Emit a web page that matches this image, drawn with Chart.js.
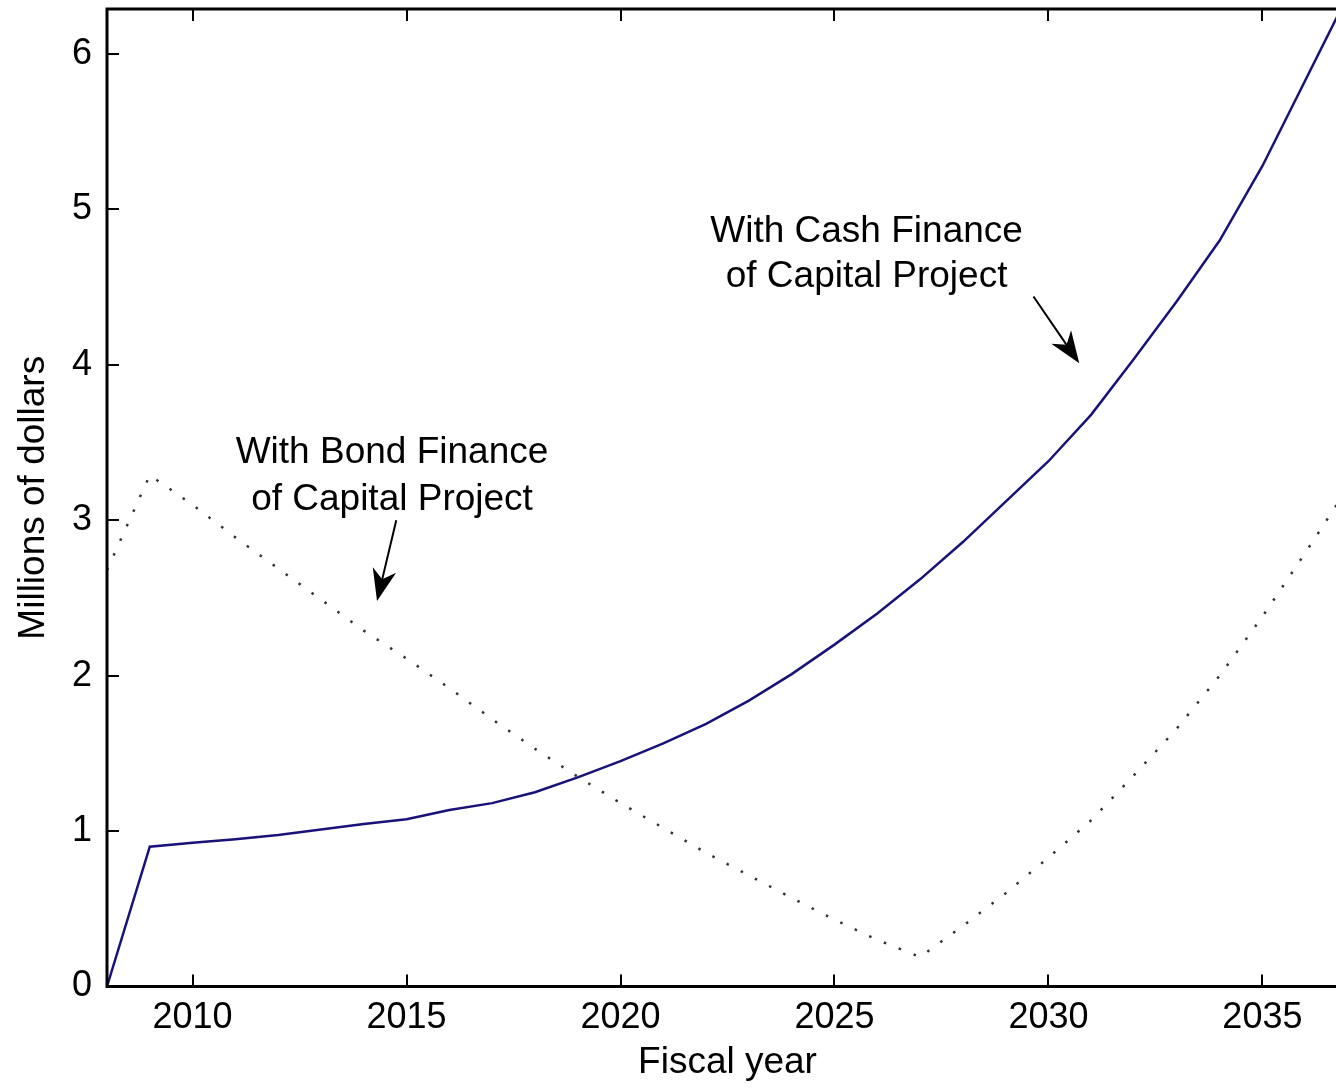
<!DOCTYPE html>
<html>
<head>
<meta charset="utf-8">
<title>Fiscal year balance</title>
<script src="https://cdn.jsdelivr.net/npm/chart.js@4.4.1/dist/chart.umd.min.js"></script>
<style>
  html, body { margin: 0; padding: 0; background: #fff; overflow: hidden; }
  #wrap { position: relative; width: 1352px; height: 1088px; }
</style>
</head>
<body>
<div id="wrap"><canvas id="balanceChart"></canvas></div>
<script>
const years = [2008, 2009, 2010, 2011, 2012, 2013, 2014, 2015, 2016, 2017,
               2018, 2019, 2020, 2021, 2022, 2023, 2024, 2025, 2026, 2027,
               2028, 2029, 2030, 2031, 2032, 2033, 2034, 2035, 2036, 2037];

// millions of dollars
const cashFinance = [0, 0.90, 0.925, 0.947, 0.975, 1.01, 1.046, 1.076, 1.136, 1.18,
                     1.25, 1.346, 1.45, 1.565, 1.69, 1.84, 2.01, 2.20, 2.40, 2.62,
                     2.86, 3.12, 3.38, 3.68, 4.04, 4.41, 4.80, 5.28, 5.83, 6.38];

const bondFinance = [2.68, 3.29, 3.10, 2.89, 2.69, 2.49, 2.29, 2.11, 1.92, 1.72,
                     1.53, 1.35, 1.18, 1.02, 0.86, 0.715, 0.57, 0.43, 0.30, 0.19,
                     0.39, 0.60, 0.83, 1.07, 1.36, 1.66, 2.00, 2.38, 2.79, 3.21];

const xTickValues = [2010, 2015, 2020, 2025, 2030, 2035];
const yTickValues = [0, 1, 2, 3, 4, 5, 6];

// text callouts with arrows, given in axis units
const callouts = [
  { lines: ['With Bond Finance', 'of Capital Project'], x: 2014.66, y: [3.367, 3.066],
    tail: [2014.76, 3.00], tip: [2014.31, 2.48] },
  { lines: ['With Cash Finance', 'of Capital Project'], x: 2025.75, y: [4.793, 4.503],
    tail: [2029.65, 4.44], tip: [2030.72, 4.01] }
];

const FONT = '"Liberation Sans", Arial, sans-serif';
const TICK_LEN = 12;

function drawArrow(ctx, x0, y0, x1, y1) {
  const ang = Math.atan2(y1 - y0, x1 - x0);
  const c = Math.cos(ang), s = Math.sin(ang);
  const headLen = 32, headW = 12;
  const bx = x1 - headLen * c, by = y1 - headLen * s;
  ctx.lineWidth = 2;
  ctx.beginPath();
  ctx.moveTo(x0, y0);
  ctx.lineTo(x1 - 10 * c, y1 - 10 * s);
  ctx.stroke();
  ctx.beginPath();
  ctx.moveTo(x1, y1);
  ctx.lineTo(bx + headW * s, by - headW * c);
  ctx.lineTo(x1 - headLen * 0.7 * c, y1 - headLen * 0.7 * s);
  ctx.lineTo(bx - headW * s, by + headW * c);
  ctx.closePath();
  ctx.fill();
}

// boxed axes with inward ticks, plus the callouts
const matlabFrame = {
  id: 'matlabFrame',
  afterDraw(chart) {
    const { ctx, chartArea: a, scales: { x, y } } = chart;
    ctx.save();
    ctx.strokeStyle = '#000';
    ctx.fillStyle = '#000';

    ctx.lineWidth = 2;
    ctx.beginPath();
    xTickValues.forEach(v => {
      const px = Math.round(x.getPixelForValue(v));
      ctx.moveTo(px, a.bottom); ctx.lineTo(px, a.bottom - TICK_LEN);
      ctx.moveTo(px, a.top); ctx.lineTo(px, a.top + TICK_LEN);
    });
    yTickValues.forEach(v => {
      const py = Math.round(y.getPixelForValue(v));
      ctx.moveTo(a.left, py); ctx.lineTo(a.left + TICK_LEN, py);
      ctx.moveTo(a.right, py); ctx.lineTo(a.right - TICK_LEN, py);
    });
    ctx.stroke();

    ctx.lineWidth = 3;
    ctx.strokeRect(a.left, a.top, a.right - a.left, a.bottom - a.top);

    ctx.font = '37px ' + FONT;
    ctx.textAlign = 'center';
    ctx.textBaseline = 'alphabetic';
    callouts.forEach(c => {
      const cx = x.getPixelForValue(c.x);
      c.lines.forEach((t, i) => ctx.fillText(t, cx, y.getPixelForValue(c.y[i])));
      drawArrow(ctx,
        x.getPixelForValue(c.tail[0]), y.getPixelForValue(c.tail[1]),
        x.getPixelForValue(c.tip[0]), y.getPixelForValue(c.tip[1]));
    });
    ctx.restore();
  }
};

const toPoints = vals => years.map((yr, i) => ({ x: yr, y: vals[i] }));

new Chart(document.getElementById('balanceChart'), {
  type: 'line',
  data: {
    datasets: [
      {
        label: 'With Cash Finance of Capital Project',
        data: toPoints(cashFinance),
        borderColor: '#18127a',
        borderWidth: 2.5,
        pointRadius: 0,
        tension: 0
      },
      {
        label: 'With Bond Finance of Capital Project',
        data: toPoints(bondFinance),
        borderColor: '#333333',
        borderWidth: 2.5,
        borderDash: [2.5, 13.5],
        pointRadius: 0,
        tension: 0
      }
    ]
  },
  options: {
    responsive: true,
    maintainAspectRatio: false,
    animation: false,
    layout: { padding: { top: 9, right: 4, left: 0, bottom: 0 } },
    plugins: {
      legend: { display: false },
      tooltip: { enabled: false }
    },
    scales: {
      x: {
        type: 'linear',
        min: 2008,
        max: 2037,
        grid: { display: false, drawTicks: false },
        border: { display: false },
        afterBuildTicks: s => { s.ticks = xTickValues.map(v => ({ value: v })); },
        afterFit: s => { s.height = 101.5; s.paddingLeft = 0; s.paddingRight = 0; },
        ticks: {
          callback: v => String(v),
          font: { family: FONT, size: 36 },
          color: '#000',
          padding: 10,
          maxRotation: 0,
          autoSkip: false
        },
        title: {
          display: true,
          text: 'Fiscal year',
          font: { family: FONT, size: 37 },
          color: '#000',
          padding: { top: 0, bottom: 3 }
        }
      },
      y: {
        type: 'linear',
        min: 0,
        max: 6.29,
        grid: { display: false, drawTicks: false },
        border: { display: false },
        afterBuildTicks: s => { s.ticks = yTickValues.map(v => ({ value: v })); },
        afterFit: s => { s.width = 107; s.paddingTop = 0; s.paddingBottom = 0; },
        ticks: {
          callback: v => String(v),
          font: { family: FONT, size: 36 },
          color: '#000',
          padding: 15
        },
        title: {
          display: true,
          text: 'Millions of dollars',
          font: { family: FONT, size: 37 },
          color: '#000',
          padding: { top: 12, bottom: 0 }
        }
      }
    }
  },
  plugins: [matlabFrame]
});
</script>
</body>
</html>
